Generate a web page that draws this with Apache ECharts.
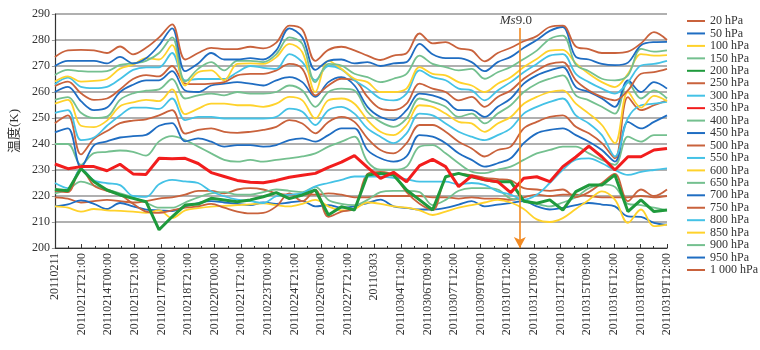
<!DOCTYPE html>
<html>
<head>
<meta charset="utf-8">
<title>温度</title>
<script src="https://cdn.jsdelivr.net/npm/echarts@6/dist/echarts.min.js"></script>
<style>
html,body{margin:0;padding:0;background:#ffffff;}
#chart{width:760px;height:350px;}
</style>
</head>
<body>
<div id="chart"></div>
<script>
/* tick labels of the time axis */
const tickLabels=[
    "20110211","20110212T21:00","20110214T00:00","20110215T21:00",
    "20110217T00:00","20110218T21:00","20110220T00:00","20110221T21:00",
    "20110223T00:00","20110224T21:00","20110226T00:00","20110227T21:00",
    "20110303","20110304T12:00","20110306T09:00","20110307T12:00",
    "20110309T09:00","20110310T12:00","20110312T09:00","20110312T12:00",
    "20110315T09:00","20110316T12:00","20110318T09:00","20110319T12:00"
];

/* pressure levels, legend order */
const levels=["20 hPa","50 hPa","100 hPa","150 hPa","200 hPa","250 hPa","300 hPa",
    "350 hPa","400 hPa","450 hPa","500 hPa","550 hPa","600 hPa","650 hPa",
    "700 hPa","750 hPa","800 hPa","850 hPa","900 hPa","950 hPa","1 000 hPa"];

/* temperature (K), one value per sample */
const p20=[219.5,219,217.5,218,218.5,218,217.5,218,219,219.5,220.5,222,222,221,222.5,223,222.5,221,220.5,220.5,220.5,221,220.5,219.5,219.5,220,220,220,220,219.5,219.5,219,219.5,219,219,218.5,219.5,220.5,220,220.5,220.5,220,219.5,219.5,219.5,220,219.5,220];
const p50=[216,216.8,218.3,217,215,217.3,216,214.8,214.5,214.2,216,217.3,218,217.5,217,216.5,217.5,217,217.5,218,216,216.5,215.5,216,217.3,218.6,216,215.4,214.8,214.8,215.4,216.7,218,216,216.7,217.3,218,216,214.8,215.4,216.5,217.3,216.7,216,212.2,212,209.7,209];
const p100=[216,215.5,214,215,214.5,214.3,214,213.5,214.5,211.5,214.5,215.3,215.9,216.2,216.5,216.8,217.2,216.5,216,217,218.5,216,214.5,215,217.5,217,216,215.5,214.5,212.7,214,215.5,216.5,217.5,218.5,217.5,215,211,210,211.5,215,218.5,221.8,218.6,209.7,214.8,208.4,209];
const p150=[221,222.5,225.5,224,222.5,221,219.5,217.5,215.5,215.5,217.5,219.5,221,221.5,220.5,220.5,221.5,222.5,222,221.5,223.5,218.5,217,216.5,218.5,221.5,222,222,221.5,216.5,218.5,222,223,223,222.5,219,218.5,217,216,217.5,219.5,223,224.5,223.5,217,216.5,215.5,214.5];
const p200=[222.5,222,230.6,225.5,222.3,220.4,219.1,217.8,207,212,216.5,216.9,219.1,218.5,217.8,218.5,219.7,221.3,219,220.4,222.3,212.7,215.9,214.6,228.1,228.7,228.1,222.3,218.5,214.6,227.4,228.7,227.4,226.2,225.5,225.5,218,217.2,218.5,214.6,221.7,224.2,224.2,228.1,214,218.5,214,214.6];
const p250=[222,221.5,230.5,224,222,220.5,217,214,213.5,214.5,215.5,216,217,215.5,214,213.3,213.5,216,221,218,222.3,212,214,215.3,228.5,229.3,228,221.5,217,214.6,227,228.5,228,227,226.5,226,223,222.5,222,222.5,219.5,221.5,225,228.5,218,222.5,220,222.5];
const p300=[225,223,230.5,226,224.9,224.2,220,219.7,224.5,226.2,225.6,225,221.8,219.9,218.6,218,217.3,219.9,220.5,221.1,223.7,225,226.2,227.5,227.5,227.5,227,226.5,225.5,225.5,225.5,224.5,225,224.3,221.8,220.5,218.6,220.5,225,230.1,234,234.5,232.6,230,228.1,229.3,230,230.6];
const p350=[232.3,230.5,231.3,231.3,229.7,232.2,228.5,228.3,234.5,234.3,234.5,232.5,229,227.5,226,225.3,225.1,226,227.2,228,228.7,231,233,235.5,231,226.8,229.1,225.5,231.7,234.1,231.3,223.6,227.7,226.2,225.5,221.3,226.8,227.4,225.5,231.3,235,239.2,235.1,230,235.1,235.1,237.7,238.3];
const p400=[240,240,232,236.5,237,237.5,237,235.5,241,243,241.5,239,236.4,233.9,233.2,233.9,233.2,233.9,234.5,235.2,236.4,239,240.9,242.8,233.2,230.1,230.1,231.3,239,239.6,236.4,232.6,229.4,228.8,230.1,231.3,233.9,236.4,237.7,239,239,236.4,233.9,232,242.8,240.9,243.4,243.4];
const p450=[244.5,246,231,239.5,241,242.5,243,243.5,247,248,241,242.2,240.9,239,239.6,239.6,239,239.6,241.5,242.2,240.9,243.4,246,246,237.7,234.5,233.2,235.2,243.4,242.8,240.3,236.4,233.9,231.3,232.6,234.5,240.3,244.1,245.4,246,243.4,240.9,237.7,233.2,248.5,246,248.5,251];
const p500=[248,251,236,242,245,248,249,249.5,251,253,244,245.4,246,244.7,244.3,244.7,245.4,246.6,249.2,247.9,244.1,248.5,250.4,248.5,242.2,237.7,236.4,240.3,247.3,247.3,244.7,240.9,238.3,235.2,237.7,239,246,248.5,250.4,251,246.6,244.1,240.3,234.5,258,253,254.9,256.8];
const p550=[252,253,241.5,242.5,247,251,254,254,253.5,257.5,249.2,250.4,250.4,249.8,249.8,249.8,249.8,250.4,253.6,252.4,247.3,253,254.3,251.7,246,242.8,240.3,244.1,251.7,251,247.9,244.7,242.8,241.5,243.4,246,251.7,254.3,256.2,257.5,251,247.9,243.4,235.2,250,254.9,255.5,256.2];
const p600=[255.5,257,247,246.5,249,254.5,256,257,256.5,261,251.5,253.6,255.5,255.5,254.9,254.9,254.3,255.5,258.1,256.8,249.8,256.8,257.5,255.5,249.2,244.7,243.4,247.3,254.9,254.3,251.7,248.5,247.9,244.7,247.9,250.4,255.5,258.1,260,260.6,255.5,251.7,247.3,240.3,260,254,258.5,256.5];
const p650=[257,258,252,250,250.5,257,259.5,260.5,261,265,257.5,258.7,259.4,258.7,260,259.4,259.4,260,262.5,260.6,254.3,260,261.3,260.6,252.4,248.5,246.6,249.8,257.5,256.2,254.3,250.4,251.7,247.9,251.7,254.9,260,263.2,265.1,266.4,258.7,256.8,254.3,251.7,263.8,257.5,260.6,257.5];
const p700=[260,262,256.5,253,254,260,262.8,264.5,264.5,268,260.6,260,262.5,263.2,263.8,263.2,262.5,264.5,265.7,263.8,258.1,263.8,265.7,262.5,254.3,250.4,249.2,253,259.4,258.7,256.8,253,253,250.4,254.3,257.5,263.2,266.4,268.3,269.6,261.9,260,257.5,254.3,264.5,260,263.8,261.3];
const p750=[262.3,264,259.5,257,257.5,261,265,266.5,266,270,263.2,263,263.2,263.8,266.4,267,267,268.3,270.8,268.9,258.7,262.5,265.1,264.5,258.1,253.6,253,255.5,263.2,261.3,260,256.8,258.1,254.3,258.1,260.6,265.1,268.3,270.8,271.5,264.5,260.6,258.1,256.8,260.6,267,267.6,268.9];
const p800=[263,265.5,262,261.5,262,265,268.5,269.5,269.5,275,264.5,265,265,265,267.6,270,269.3,268.9,274.6,271.5,264.6,270,268.7,264.5,261.3,257.5,256.8,259.4,268.3,265.7,264.5,261.3,260.6,256.8,260.6,263.8,267.6,270.8,274,274.6,267,263.8,261.3,259.4,263.8,270.2,270.8,272];
const p850=[264,266,264,264.3,265,269,270.5,273,272.5,278,262.5,267.6,268.3,264.5,270.8,271,270.8,273.4,278.5,275.3,260,272.1,268.9,265.1,263.8,260,260,261.3,269.6,267,266.4,263.8,262.5,260,263.2,265.7,269.6,272.7,275.9,276.2,271,267,263.8,261.9,267,274.6,274,274.2];
const p900=[266.5,268.5,268,267.8,268,270.4,271,272,275,281,264,268.9,271.5,268.3,272,272,271.5,274.6,281,278.5,263.8,270.8,270.2,267,265.7,263.8,265.1,267,274,270.8,269.6,268.3,268.9,265.1,267.6,269.6,272.7,275.9,280.4,281.7,270.5,268,265.1,264.5,266.4,276.6,275.5,276];
const p950=[270,272,272,272,271,273.5,271,273,278,284.5,268,271,275,272.5,272.5,273,272.5,276,284.5,281,268.5,272,272.5,271,271.5,270,271,271.5,278.5,274.5,273,273,271.5,268,271.5,273.5,277,280,283.5,285,273.5,272.5,270.8,270.3,271.3,278,279.2,279.3];
const p1000=[273.5,276,276.2,276,275,277.5,274.5,277,281,286,272.5,275,277,276.5,276.5,277.4,276.8,279,285.5,284,272,276.2,277.4,276,274,272.3,274,274.9,282.5,278.7,279.2,276.8,276,271.8,275,277,279.5,281.5,285,285.5,277.5,276.5,275,275,275.5,278.7,283,280];

const profiles=[p20,p50,p100,p150,p200,p250,p300,p350,p400,p450,p500,p550,p600,p650,p700,p750,p800,p850,p900,p950,p1000];

/* sample position of the earthquake (Ms9.0) */
const quakeSample=35.7;

const BROWN="#c9623c",BLUE="#1f6dc2",YELLOW="#ffd22b",GREEN="#74c08f",
      CYAN="#44c2e6",RED="#f21d1d",DKGREEN="#1f9a3c";
const colors=[BROWN,BLUE,YELLOW,GREEN,DKGREEN,BROWN,CYAN,RED,GREEN,BLUE,BROWN,
    CYAN,YELLOW,GREEN,BLUE,BROWN,CYAN,YELLOW,GREEN,BLUE,BROWN];

const SERIF="'Liberation Serif','Times New Roman',serif";

const chart=echarts.init(document.getElementById("chart"),null,{renderer:"canvas"});

const series=profiles.map((vals,k)=>{
    const thick=(levels[k]==="200 hPa"||levels[k]==="350 hPa");
    const s={
        name:levels[k],
        type:"line",
        xAxisIndex:0,
        symbol:"none",
        smooth:thick?false:0.35,
        color:colors[k],
        lineStyle:{width:thick?3:1.8,color:colors[k]},
        data:vals.map((v,i)=>[i,v]),
        z:thick?4:2
    };
    if(k===0){
        s.markLine={
            silent:true,
            symbol:["none","arrow"],
            symbolSize:[9,11],
            lineStyle:{color:"#f28a22",width:1.6,type:"solid"},
            label:{
                show:true,
                position:"start",
                distance:1,
                padding:[0,8,0,0],
                formatter:"{i|Ms}{n|9.0}",
                rich:{
                    i:{fontFamily:SERIF,fontStyle:"italic",fontSize:13,color:"#333"},
                    n:{fontFamily:SERIF,fontSize:13,color:"#333"}
                }
            },
            data:[[{coord:[quakeSample,284.6]},{coord:[quakeSample,200]}]]
        };
    }
    return s;
});

chart.setOption({
    backgroundColor:"#ffffff",
    animation:false,
    grid:{left:48,right:93,top:14,bottom:102},
    legend:{
        orient:"vertical",
        left:681,
        top:10,
        itemWidth:18,
        itemHeight:8,
        itemGap:0.45,
        itemStyle:{opacity:0},
        textStyle:{fontFamily:SERIF,fontSize:12,color:"#333",lineHeight:12},
        data:levels
    },
    xAxis:[
        {
            type:"value",
            min:0,
            max:profiles[0].length-1,
            show:false,
            splitLine:{show:false}
        },
        {
            type:"value",
            min:0,
            max:tickLabels.length-1,
            interval:1,
            position:"bottom",
            axisLine:{show:true,onZero:false,lineStyle:{color:"#333",width:1.2}},
            axisTick:{show:true,inside:true,length:4,lineStyle:{color:"#333"}},
            minorTick:{show:true,splitNumber:2,length:2,lineStyle:{color:"#333"}},
            splitLine:{show:false},
            axisLabel:{
                rotate:90,
                margin:5,
                fontFamily:SERIF,
                fontSize:12,
                color:"#333",
                formatter:v=>tickLabels[Math.round(v)]||""
            }
        }
    ],
    yAxis:{
        type:"value",
        min:200,
        max:290,
        interval:10,
        name:"温度(K)",
        nameLocation:"middle",
        nameRotate:90,
        nameGap:33,
        nameTextStyle:{fontFamily:"'Liberation Serif','Noto Sans CJK SC'",fontSize:13,color:"#333"},
        axisLine:{show:true,lineStyle:{color:"#333",width:1.2}},
        axisTick:{show:true,length:3,lineStyle:{color:"#999"}},
        axisLabel:{fontFamily:SERIF,fontSize:12,color:"#333",margin:5},
        splitLine:{show:true,lineStyle:{color:"#b0b0b0",width:1.8}}
    },
    series
});
</script>
</body>
</html>
